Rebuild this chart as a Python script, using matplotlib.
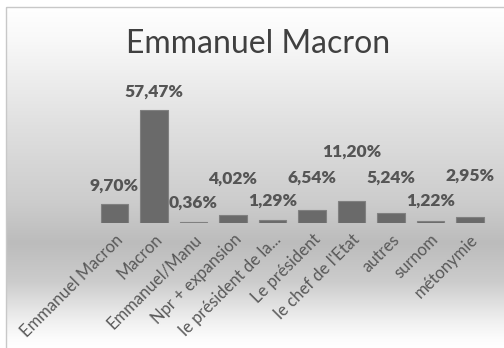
import numpy as np
import matplotlib
matplotlib.use("Agg")
import matplotlib.pyplot as plt
from matplotlib.patches import Rectangle

categories = ["Emmanuel Macron", "Macron", "Emmanuel/Manu", "Npr + expansion",
              "le président de la...", "Le président", "le chef de l'Etat",
              "autres", "surnom", "métonymie"]
shares = [9.70, 57.47, 0.36, 4.02, 1.29, 6.54, 11.20, 5.24, 1.22, 2.95]

# where each percentage label sits (data units), labels were staggered by hand
label_y = [18.8, 66.6, 10.2, 22.4, 11.2, 22.9, 36.1, 22.9, 11.2, 23.9]

plt.rcParams['font.family'] = ['Lato', 'DejaVu Sans']
W, H = 504, 348
fig = plt.figure(figsize=(W / 100, H / 100), dpi=100)

# background: vertical grey gradient inside the chart frame
bg = fig.add_axes([0, 0, 1, 1])
bg.axis('off')
stops_y = [0, 35, 120, 200, 240, 280, 320, 338, 348]
stops_c = [255, 248, 224, 204, 188, 204, 240, 252, 255]
rows = np.interp(np.arange(H), stops_y, stops_c) / 255.0
grad = np.repeat(rows[:, None], 2, axis=1)
bg.imshow(np.dstack([grad, grad, grad]), extent=(6, W + 6, H, 7),
          aspect='auto', interpolation='bilinear')
bg.add_patch(Rectangle((6, 7), W + 10, H + 10, fill=False,
                       edgecolor='#c8c8c8', linewidth=1))
bg.set_xlim(0, W)
bg.set_ylim(H, 0)

ax = fig.add_axes([94.75 / W, 125 / H, 395 / W, 118 / H])
ax.patch.set_alpha(0)
x = np.arange(len(categories))
ax.bar(x, shares, width=0.7, color='#6a6a6a', edgecolor='#808080', linewidth=0.8)
ax.set_xlim(-0.5, len(categories) - 0.5)
ax.set_ylim(0, 60)
for s in ax.spines.values():
    s.set_visible(False)
ax.set_yticks([])
ax.set_xticks(x)
ax.set_xticklabels(categories, rotation=45, ha='right', rotation_mode='anchor',
                   fontsize=12, color='#595959')
ax.tick_params(axis='x', length=0, pad=6)

for xi, v, ly in zip(x, shares, label_y):
    ax.text(xi, ly, f"{v:.2f}%".replace('.', ','), ha='center', va='center',
            fontsize=12.5, fontweight='heavy', color='#555555', clip_on=False)

fig.text(258 / W, 1 - 44 / H, "Emmanuel Macron", ha='center', va='center',
         fontsize=23, color='#404040')

fig.savefig("out.png", dpi=100)
